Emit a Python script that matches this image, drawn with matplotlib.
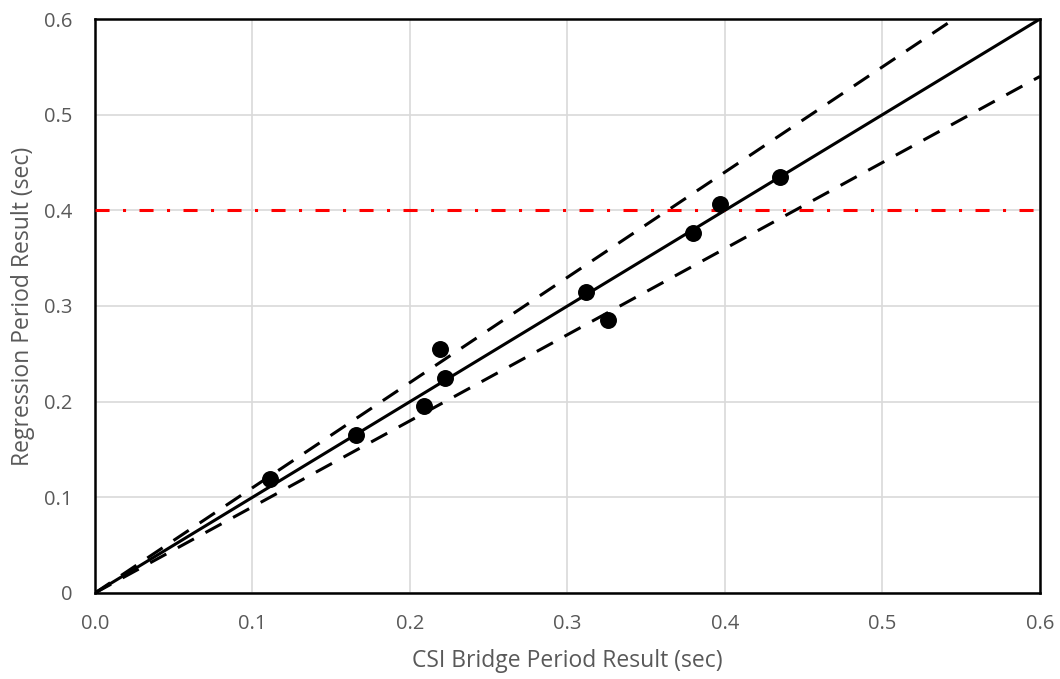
import numpy as np
import matplotlib
matplotlib.use("Agg")
import matplotlib.pyplot as plt

plt.rcParams['font.family'] = ['Open Sans', 'DejaVu Sans']

# ===== data =====
csi_period = [0.111, 0.166, 0.209, 0.219, 0.222, 0.312, 0.326, 0.380, 0.397, 0.435]
reg_period = [0.119, 0.165, 0.195, 0.255, 0.225, 0.315, 0.285, 0.376, 0.407, 0.435]
ref_x = np.array([0.0, 0.6])
upper_factor = 1.1
lower_factor = 0.9
limit_line = 0.4
xticks = [0.0, 0.1, 0.2, 0.3, 0.4, 0.5, 0.6]
xtick_labels = ['0.0', '0.1', '0.2', '0.3', '0.4', '0.5', '0.6']
yticks = [0.0, 0.1, 0.2, 0.3, 0.4, 0.5, 0.6]
ytick_labels = ['0', '0.1', '0.2', '0.3', '0.4', '0.5', '0.6']

gray = '#595959'

fig = plt.figure(figsize=(10.6, 6.79), dpi=100)
ax = fig.add_axes([0.0896, 0.1267, 0.8915, 0.8453])

ax.plot(ref_x, ref_x, color='black', lw=2.2, zorder=3)
ax.plot(ref_x, ref_x * upper_factor, color='black', lw=2.2,
        linestyle=(0, (6.0, 4.3)), zorder=3)
ax.plot(ref_x, ref_x * lower_factor, color='black', lw=2.2,
        linestyle=(0, (6.0, 4.3)), zorder=3)
ax.axhline(limit_line, color='#ff0000', lw=2.2,
           linestyle=(0, (4.6, 4.4, 1.0, 4.4)), zorder=4)
ax.scatter(csi_period, reg_period, s=125, color='black', zorder=5)

ax.set_xlim(0, 0.6)
ax.set_ylim(0, 0.6)
ax.set_xticks(xticks)
ax.set_xticklabels(xtick_labels)
ax.set_yticks(yticks)
ax.set_yticklabels(ytick_labels)
ax.tick_params(length=0, labelsize=14.5, colors=gray)
ax.tick_params(axis='x', pad=15)
ax.tick_params(axis='y', pad=16)
ax.grid(True, color='#d9d9d9', lw=1.2, zorder=0)
ax.set_axisbelow(True)
for s in ax.spines.values():
    s.set_color('black')
    s.set_linewidth(1.8)

ax.set_xlabel('CSI Bridge Period Result (sec)', fontsize=16.5, color=gray, labelpad=11)
ax.set_ylabel('Regression Period Result (sec)', fontsize=16.5, color=gray, labelpad=7)

fig.savefig('out.png', dpi=100)
